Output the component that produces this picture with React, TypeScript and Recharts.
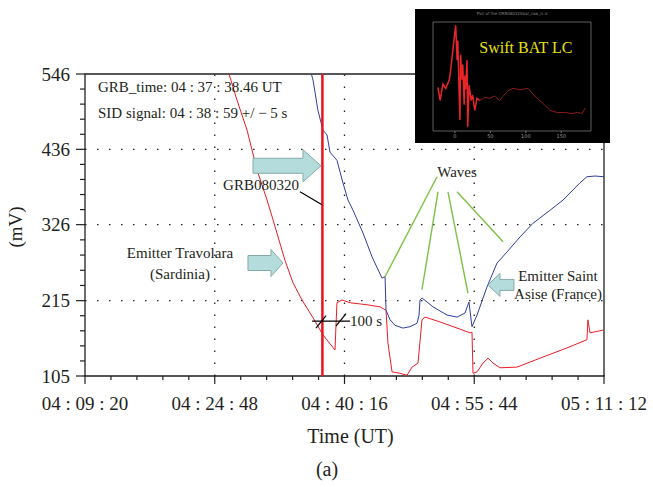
import React from "react";
import {
  LineChart, Line, XAxis, YAxis, ReferenceLine, ReferenceArea, ReferenceDot
} from "recharts";

const FONT = '"Liberation Serif", "Times New Roman", serif';
const INK = "#231f20";

// time axis in seconds of the day (UT)
const timeMajor = [14960, 15888, 16816, 17744, 18672];
const mvMajor = [105, 215, 326, 436, 546];
const grbTime = 16658; // 04:37:38.46

// Emitter Saint Asise (France), blue
const blueTime = [16562, 16591, 16626, 16662, 16691, 16712, 16762, 16805, 16841, 16877, 16948, 17013, 17084, 17106, 17113, 17142, 17177, 17234, 17284, 17335, 17349, 17356, 17370, 17449, 17549, 17621, 17678, 17706, 17728, 17764, 17835, 17907, 17978, 18071, 18164, 18286, 18379, 18500, 18550, 18608, 18672];
const blueMv = [559, 537, 493, 464, 457, 432, 420, 387, 362, 347, 314, 279, 248, 250, 201, 187, 179, 175, 177, 182, 194, 216, 219, 206, 194, 191, 197, 213, 177, 194, 235, 270, 286, 308, 328, 347, 362, 387, 396, 397, 396];

// Emitter Travolara (Sardinia), red
const redTime = [15968, 15990, 16047, 16119, 16190, 16262, 16305, 16390, 16448, 16512, 16591, 16662, 16748, 16762, 16798, 16855, 16977, 17070, 17113, 17127, 17156, 17213, 17263, 17299, 17342, 17370, 17392, 17499, 17621, 17714, 17728, 17735, 17764, 17807, 17843, 17878, 17928, 18050, 18214, 18407, 18550, 18557, 18572, 18665];
const redMv = [559, 546, 508, 464, 406, 362, 333, 274, 241, 216, 190, 165, 143, 212, 216, 212, 209, 206, 201, 153, 111, 109, 106, 118, 124, 187, 191, 184, 175, 168, 169, 109, 111, 124, 131, 124, 117, 118, 131, 146, 158, 187, 168, 172];

// Swift BAT light curve (inset), time since trigger in s, arbitrary rate
const batSpikeTime = [-24, -21, -17, -13, -8, -6, -3, 1, 3, 4, 6, 7, 8, 10, 11, 13, 14, 15, 17, 18, 20, 23, 25, 28, 31, 35];
const batSpikeRate = [40, 28, 43, 39, 47, 56, 74, 97, 65, 83, 33, 10, 70, 47, 61, 24, 51, 38, 65, 4, 42, 28, 33, 19, 30, 28];
const batTailTime = [35, 42, 49, 56, 63, 68, 75, 82, 92, 103, 113, 123, 134, 144, 155, 165, 173, 179, 184];
const batTailRate = [28, 31, 30, 32, 28, 32, 37, 39, 38, 39, 32, 26, 19, 17, 17, 16, 17, 16, 21];
const batTicks = [0, 50, 100, 150];

const zip = (xs: number[], ys: number[]) => xs.map((x, i) => ({ t: x, v: ys[i] }));
const blueData = zip(blueTime, blueMv);
const redData = zip(redTime, redMv);
const batSpike = zip(batSpikeTime, batSpikeRate);
const batTail = zip(batTailTime, batTailRate);

const subdivide = (major: number[], n: number) => {
  const out: number[] = [];
  major.forEach((m, i) => {
    out.push(m);
    if (i < major.length - 1) {
      for (let k = 1; k < n; k++) out.push(m + ((major[i + 1] - m) * k) / n);
    }
  });
  return out;
};
const timeTicks = subdivide(timeMajor, 5);
const mvTicks = subdivide(mvMajor, 5);

const pad = (n: number) => String(n).padStart(2, "0");
const fmtTime = (s: number) => {
  const h = Math.floor(s / 3600);
  const m = Math.floor((s % 3600) / 60);
  const sec = Math.round(s % 60);
  return `${pad(h)} : ${pad(m)} : ${pad(sec)}`;
};

const TimeTick = (props: any) => {
  const { x, y, payload } = props;
  const major = timeMajor.some((m) => Math.abs(m - payload.value) < 0.5);
  return (
    <g>
      <line x1={x} x2={x} y1={y - (major ? 1 : 0)} y2={y + (major ? 8 : 4)} stroke={INK} strokeWidth={1.2} />
      {major && (
        <text x={x} y={y + 27} dy="0.35em" textAnchor="middle" fontSize={19} fontFamily={FONT} fill={INK}>
          {fmtTime(payload.value)}
        </text>
      )}
    </g>
  );
};

const MvTick = (props: any) => {
  const { x, y, payload } = props;
  const major = mvMajor.some((m) => Math.abs(m - payload.value) < 0.5);
  return (
    <g>
      <line x1={x} x2={x - (major ? 9 : 5)} y1={y} y2={y} stroke={INK} strokeWidth={1.2} />
      {major && (
        <text x={x - 15} y={y} dy="0.35em" textAnchor="end" fontSize={19} fontFamily={FONT} fill={INK}>
          {payload.value}
        </text>
      )}
    </g>
  );
};

const XTitle = (props: any) => {
  const vb = props.viewBox;
  return (
    <text x={vb.x + vb.width / 2 + 6} y={vb.y + 60} dy="0.35em" textAnchor="middle" fontSize={20} fontFamily={FONT} fill={INK}>
      Time (UT)
    </text>
  );
};

const YTitle = (props: any) => {
  const vb = props.viewBox;
  const cx = vb.x + 15;
  const cy = vb.y + vb.height / 2 + 2;
  return (
    <text x={cx} y={cy} dy="0.35em" transform={`rotate(-90 ${cx} ${cy})`} textAnchor="middle" fontSize={19} fontFamily={FONT} fill={INK}>
      (mV)
    </text>
  );
};

const arrowShape = (len: number, headLen: number, headHalf: number, shaftHalf: number, dir: number) => (p: any) => {
  const { cx, cy } = p;
  const pts = [
    [0, 0], [-headLen, -headHalf], [-headLen, -shaftHalf], [-len, -shaftHalf],
    [-len, shaftHalf], [-headLen, shaftHalf], [-headLen, headHalf],
  ].map(([dx, dy]) => `${cx + dir * dx},${cy + dy}`).join(" ");
  return <polygon points={pts} fill="#b5dcdc" stroke="#86aaaa" strokeWidth={1} />;
};

const textShape = (text: string, anchor: string, size: number, fill = INK) => (p: any) => (
  <text x={p.cx} y={p.cy} dy="0.35em" textAnchor={anchor} fontSize={size} fontFamily={FONT} fill={fill}>
    {text}
  </text>
);

const notes = [
  { t: 15053, v: 527, text: "GRB_time: 04 : 37 : 38.46 UT", anchor: "start" },
  { t: 15053, v: 489, text: "SID signal: 04 : 38 : 59 +/ \u2212 5 s", anchor: "start" },
  { t: 16219, v: 384, text: "GRB080320", anchor: "middle" },
  { t: 15639, v: 285, text: "Emitter Travolara", anchor: "middle" },
  { t: 15639, v: 255, text: "(Sardinia)", anchor: "middle" },
  { t: 17621, v: 403, text: "Waves", anchor: "middle" },
  { t: 18343, v: 252, text: "Emitter Saint", anchor: "middle" },
  { t: 18343, v: 225, text: "Asise (France)", anchor: "middle" },
  { t: 16855, v: 186, text: "100 s", anchor: "start" },
];

const waveLinks = [
  [17478, 396, 17106, 250],
  [17485, 374, 17370, 231],
  [17556, 374, 17699, 226],
  [17621, 374, 17950, 301],
];

const blackMarks = [
  [16498, 374, 16655, 355],
  [16584, 185, 16855, 185],
  [16612, 175, 16684, 193],
  [16755, 178, 16827, 196],
];

const dotted = "1.5 10.5";

const Inset = () => (
  <div style={{ position: "absolute", left: 415, top: 9, width: 195, height: 134, background: "#000" }}>
    <LineChart width={195} height={134} margin={{ top: 13, right: 19, bottom: 2, left: 18 }}>
      <XAxis dataKey="t" type="number" domain={[-31, 192]} ticks={batTicks} height={10} tickSize={2} tickMargin={1}
        axisLine={false} tickLine={{ stroke: "#777" }} tick={{ fontSize: 5, fill: "#999", fontFamily: "DejaVu Sans" }} />
      <YAxis type="number" domain={[0, 100]} hide />
      <ReferenceArea x1={-31} x2={192} y1={0} y2={100} fill="none" stroke="#888" strokeWidth={0.7} />
      <Line data={batTail} dataKey="v" stroke="#8e1c1c" strokeWidth={1} dot={false} isAnimationActive={false} />
      <Line data={batSpike} dataKey="v" stroke="#e8262a" strokeWidth={1.5} dot={false} isAnimationActive={false} />
      <ReferenceDot x={100} y={77} r={0} shape={textShape("Swift BAT LC", "middle", 16, "#e8e010")} />
    </LineChart>
    <div style={{ position: "absolute", left: 0, right: 0, top: 2, textAlign: "center", fontSize: 4, color: "#888", fontFamily: "DejaVu Sans" }}>
      Plot of the GRB080320bat_raw_lc.lc
    </div>
  </div>
);

export default function App() {
  return (
    <div style={{ position: "absolute", left: 0, top: 0, width: 653, height: 487, background: "#fff", overflow: "hidden" }}>
      <LineChart width={653} height={487} margin={{ top: 74, right: 49, bottom: 0, left: 0 }}>
        <XAxis dataKey="t" type="number" domain={[timeMajor[0], timeMajor[4]]} allowDataOverflow ticks={timeTicks}
          interval={0} tick={<TimeTick />} tickLine={false} axisLine={false} tickSize={0} tickMargin={0} height={111}
          label={<XTitle />} />
        <YAxis dataKey="v" type="number" domain={[mvMajor[0], mvMajor[4]]} allowDataOverflow ticks={mvTicks}
          interval={0} tick={<MvTick />} tickLine={false} axisLine={false} tickSize={0} tickMargin={0} width={85}
          label={<YTitle />} />
        {timeMajor.slice(1, 4).map((t) => (
          <ReferenceLine key={"gx" + t} x={t} stroke={INK} strokeWidth={1.3} strokeDasharray={dotted} />
        ))}
        {mvMajor.slice(1, 4).map((v) => (
          <ReferenceLine key={"gy" + v} y={v} stroke={INK} strokeWidth={1.3} strokeDasharray={dotted} />
        ))}
        <ReferenceArea x1={timeMajor[0]} x2={timeMajor[4]} y1={mvMajor[0]} y2={mvMajor[4]} fill="none" fillOpacity={0} stroke={INK} strokeWidth={1.3} />
        <Line data={redData} dataKey="v" stroke="#ec1c24" strokeWidth={1} dot={false} isAnimationActive={false} />
        <Line data={blueData} dataKey="v" stroke="#2e3f9e" strokeWidth={1} dot={false} isAnimationActive={false} />
        <ReferenceLine x={grbTime} stroke="#e8141c" strokeWidth={2.5} />
        {waveLinks.map(([t1, v1, t2, v2], i) => (
          <ReferenceLine key={"w" + i} segment={[{ x: t1, y: v1 }, { x: t2, y: v2 }]} stroke="#7cc243" strokeWidth={1.4} />
        ))}
        {blackMarks.map(([t1, v1, t2, v2], i) => (
          <ReferenceLine key={"b" + i} segment={[{ x: t1, y: v1 }, { x: t2, y: v2 }]} stroke="#000" strokeWidth={1.2} />
        ))}
        <ReferenceDot x={16648} y={412} r={0} shape={arrowShape(68, 18, 16, 7.5, 1)} />
        <ReferenceDot x={16376} y={270} r={0} shape={arrowShape(35, 12, 13.5, 7.5, 1)} />
        <ReferenceDot x={17842} y={238} r={0} shape={arrowShape(26, 12, 11.5, 5.5, -1)} />
        {notes.map((n, i) => (
          <ReferenceDot key={"n" + i} x={n.t} y={n.v} r={0} shape={textShape(n.text, n.anchor, 15)} />
        ))}
      </LineChart>
      <div style={{ position: "absolute", left: 327, top: 458, transform: "translateX(-50%)", fontFamily: FONT, fontSize: 20, color: INK }}>
        (a)
      </div>
      <Inset />
    </div>
  );
}
